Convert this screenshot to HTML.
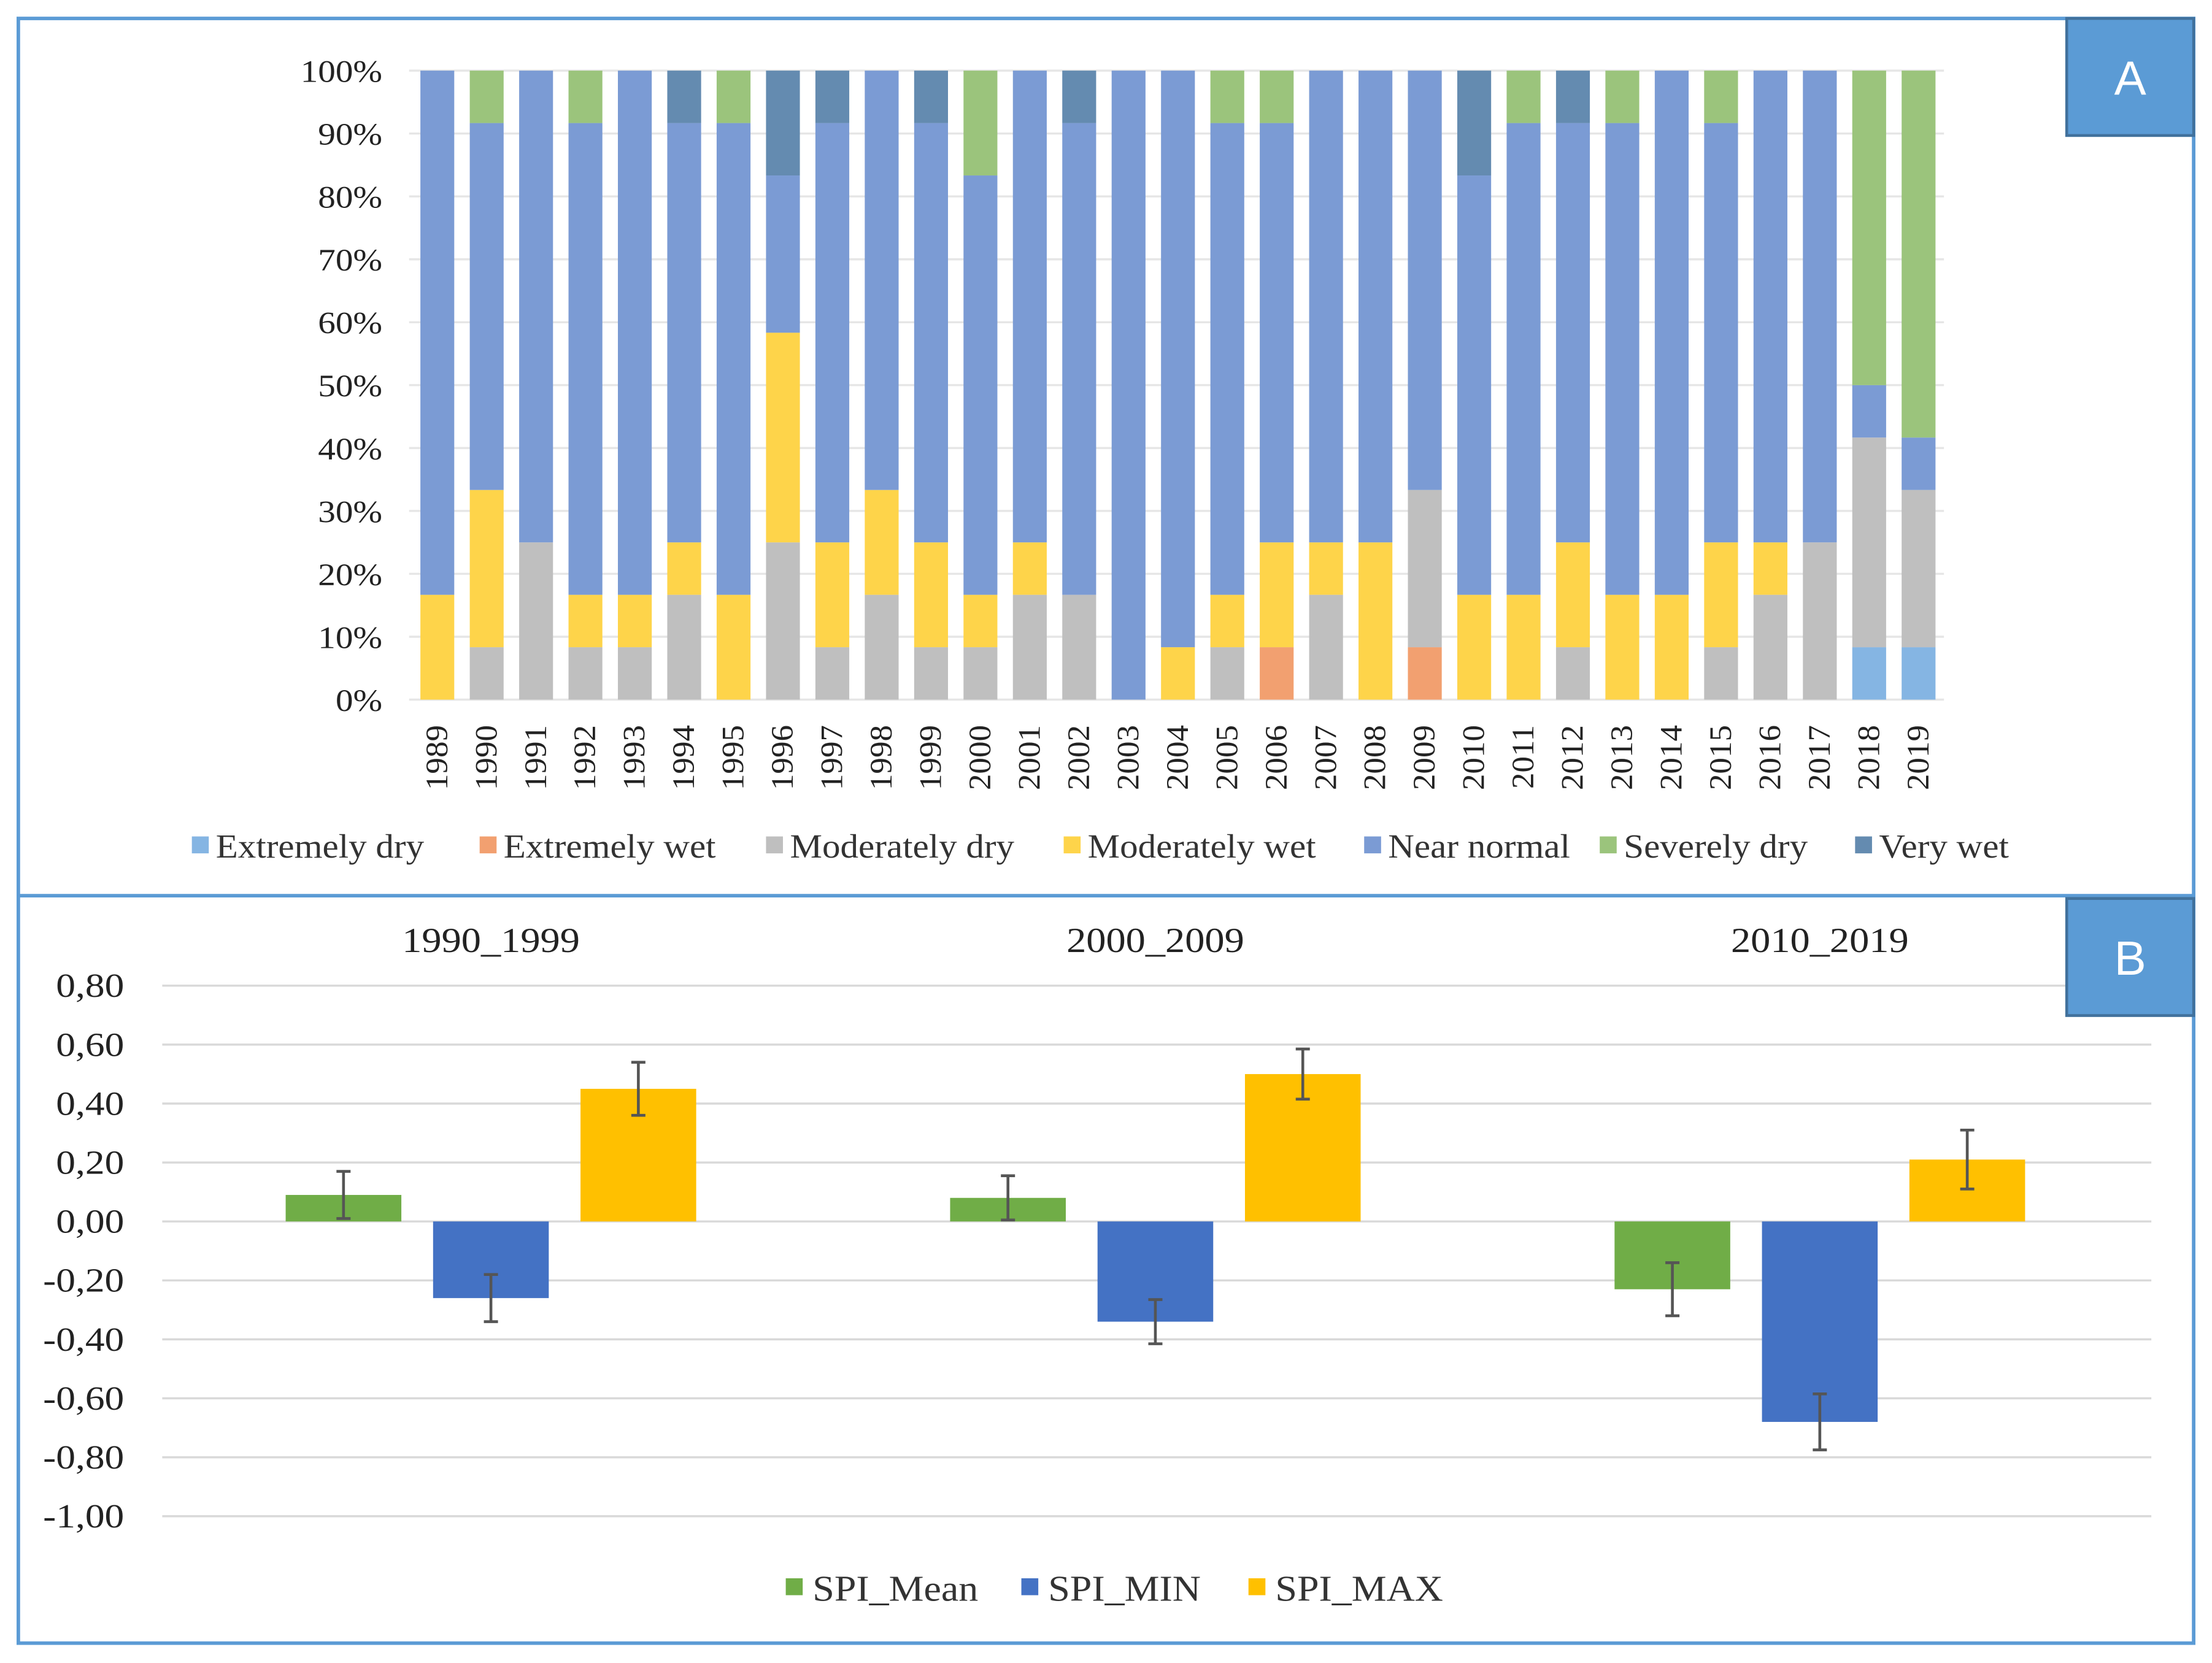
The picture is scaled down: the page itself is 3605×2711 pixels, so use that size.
<!DOCTYPE html>
<html><head><meta charset="utf-8"><style>
html,body{margin:0;padding:0;background:#fff;}
svg{display:block;font-family:"Liberation Serif",serif;}
</style></head><body>
<svg id="fig" width="3605" height="2711" viewBox="0 0 1568 1179" xmlns="http://www.w3.org/2000/svg">
<rect x="0" y="0" width="1568" height="1179" fill="#fff"/>
<rect x="13" y="13" width="1542" height="1152" fill="none" stroke="#5b9bd5" stroke-width="2.5"/>
<line x1="13" y1="635" x2="1555" y2="635" stroke="#5b9bd5" stroke-width="2.5"/>
<g id="gA"></g>
<g id="gB"></g>
<g><rect x="1465" y="13" width="90" height="83" fill="#5b9bd5" stroke="#41719c" stroke-width="2"/><text x="1510" y="67" font-family="Liberation Sans,sans-serif" font-size="34" fill="#fff" text-anchor="middle">A</text></g>
<g><rect x="1465" y="637" width="90" height="83" fill="#5b9bd5" stroke="#41719c" stroke-width="2"/><text x="1510" y="691" font-family="Liberation Sans,sans-serif" font-size="34" fill="#fff" text-anchor="middle">B</text></g>
</svg>
<script>
// ---------- Panel A data (months out of 12) ----------
const years = [1989,1990,1991,1992,1993,1994,1995,1996,1997,1998,1999,2000,2001,2002,2003,2004,2005,2006,2007,2008,2009,2010,2011,2012,2013,2014,2015,2016,2017,2018,2019];
const categoryNames = ["Extremely dry","Extremely wet","Moderately dry","Moderately wet","Near normal","Severely dry","Very wet"];
const extremelyDry  = [0,0,0,0,0,0,0,0,0,0,0,0,0,0,0,0,0,0,0,0,0,0,0,0,0,0,0,0,0,1,1];
const extremelyWet  = [0,0,0,0,0,0,0,0,0,0,0,0,0,0,0,0,0,1,0,0,1,0,0,0,0,0,0,0,0,0,0];
const moderatelyDry = [0,1,3,1,1,2,0,3,1,2,1,1,2,2,0,0,1,0,2,0,3,0,0,1,0,0,1,2,3,4,3];
const moderatelyWet = [2,3,0,1,1,1,2,4,2,2,2,1,1,0,0,1,1,2,1,3,0,2,2,2,2,2,2,1,0,0,0];
const nearNormal    = [10,7,9,9,10,8,9,3,8,8,8,8,9,9,12,11,9,8,9,9,8,8,9,8,9,10,8,9,9,1,1];
const severelyDry   = [0,1,0,1,0,0,1,0,0,0,0,2,0,0,0,0,1,1,0,0,0,0,1,0,1,0,1,0,0,6,7];
const veryWet       = [0,0,0,0,0,1,0,2,1,0,1,0,0,1,0,0,0,0,0,0,0,2,0,1,0,0,0,0,0,0,0];
const pctTicks = ["0%","10%","20%","30%","40%","50%","60%","70%","80%","90%","100%"];

// ---------- Panel B data ----------
const periods = ["1990_1999","2000_2009","2010_2019"];
const seriesNames = ["SPI_Mean","SPI_MIN","SPI_MAX"];
const spiMean = [0.09,0.08,-0.23];
const spiMin  = [-0.26,-0.34,-0.68];
const spiMax  = [0.45,0.50,0.21];
const errMean = [0.08,0.075,0.09];
const errMin  = [0.08,0.075,0.095];
const errMax  = [0.09,0.085,0.10];
const bTicks = ["0,80","0,60","0,40","0,20","0,00","-0,20","-0,40","-0,60","-0,80","-1,00"];
const bTickVals = [0.8,0.6,0.4,0.2,0,-0.2,-0.4,-0.6,-0.8,-1.0];

const NS="http://www.w3.org/2000/svg";
function mk(tag, attrs, parent){const e=document.createElementNS(NS,tag);for(const k in attrs)e.setAttribute(k,attrs[k]);parent.appendChild(e);return e;}
function widen(t,f){const w=t.getComputedTextLength();t.setAttribute('textLength',(w*f).toFixed(1));t.setAttribute('lengthAdjust','spacingAndGlyphs');}

// ===== Panel A =====
const gA=document.getElementById('gA');
const colorsA=["#85b5e3","#f2a070","#bfbfbf","#fed44a","#7b9bd4","#9bc47c","#648bb0"];
const seriesA=[extremelyDry,extremelyWet,moderatelyDry,moderatelyWet,nearNormal,severelyDry,veryWet];
const ay0=496, ay1=50;
const yA=p=>ay0-(ay0-ay1)*p/100;
const xA=i=>310+i*35;
pctTicks.forEach((t,i)=>{
  const y=yA(i*10);
  const l=mk('line',{x1:290,x2:1378,y1:y,y2:y,stroke:'#e6e6e6','stroke-width':1.5},gA);
  
  
  const tx=mk('text',{x:271,y:y+8,'font-size':22,'text-anchor':'end',fill:'#222'},gA);
  tx.textContent=t;
  
  
  widen(tx,1.13);
});
years.forEach((yr,i)=>{
  let total=0; seriesA.forEach(s=>total+=s[i]);
  let cum=0;
  seriesA.forEach((s,k)=>{
    if(!s[i])return;
    const p0=cum/total*100, p1=(cum+s[i])/total*100; cum+=s[i];
    const r=mk('rect',{x:xA(i)-12,y:yA(p1),width:24,height:yA(p0)-yA(p1),fill:colorsA[k]},gA);
    
    
  });
  const tx=mk('text',{x:0,y:0,'font-size':22,'text-anchor':'end',fill:'#222',transform:`translate(${xA(i)+7},514) rotate(-90)`},gA);
  tx.textContent=yr;
  
  
  widen(tx,1.05);
});
const legAx=[136,340,543,754,967,1134,1315];
categoryNames.forEach((n,k)=>{
  const g=mk('g',{},gA);
  
  
  mk('rect',{x:legAx[k],y:593,width:12,height:12,fill:colorsA[k]},g);
  const t=mk('text',{x:legAx[k]+17,y:608,'font-size':24,fill:'#333'},g);
  t.textContent=n;
  widen(t,1.07);
});

// ===== Panel B =====
const gB=document.getElementById('gB');
const colorsB=["#70ad47","#4472c4","#ffc000"];
const seriesB=[spiMean,spiMin,spiMax];
const errsB=[errMean,errMin,errMax];
const yB=v=>866-v*209;
bTickVals.forEach((v,i)=>{
  const y=yB(v);
  const l=mk('line',{x1:115,x2:1525,y1:y,y2:y,stroke:'#d9d9d9','stroke-width':1.5},gB);
  
  
  const tx=mk('text',{x:88,y:y+8,'font-size':24,'text-anchor':'end',fill:'#222'},gB);
  tx.textContent=bTicks[i];
  
  
  widen(tx,1.15);
});
const groupX=i=>348+i*471;
periods.forEach((p,i)=>{
  const tx=mk('text',{x:groupX(i),y:675,'font-size':25,'text-anchor':'middle',fill:'#222'},gB);
  tx.textContent=p;
  
  
  widen(tx,1.12);
  seriesB.forEach((s,k)=>{
    const cx=groupX(i)+(k-1)*104.5;
    const v=s[i];
    const r=mk('rect',{x:cx-41,y:Math.min(yB(v),yB(0)),width:82,height:Math.abs(yB(v)-yB(0)),fill:colorsB[k]},gB);
    
    
    const e=errsB[k][i];
    const eg=mk('g',{stroke:'#555','stroke-width':2},gB);
    
    
    mk('line',{x1:cx,x2:cx,y1:yB(v+e),y2:yB(v-e)},eg);
    mk('line',{x1:cx-5,x2:cx+5,y1:yB(v+e),y2:yB(v+e)},eg);
    mk('line',{x1:cx-5,x2:cx+5,y1:yB(v-e),y2:yB(v-e)},eg);
  });
});
const legBx=[557,724,885];
seriesNames.forEach((n,k)=>{
  const g=mk('g',{},gB);
  
  
  mk('rect',{x:legBx[k],y:1119,width:12,height:12,fill:colorsB[k]},g);
  const t=mk('text',{x:legBx[k]+19,y:1135,'font-size':26,fill:'#333'},g);
  t.textContent=n;
  widen(t,1.07);
});
</script>
</body></html>
